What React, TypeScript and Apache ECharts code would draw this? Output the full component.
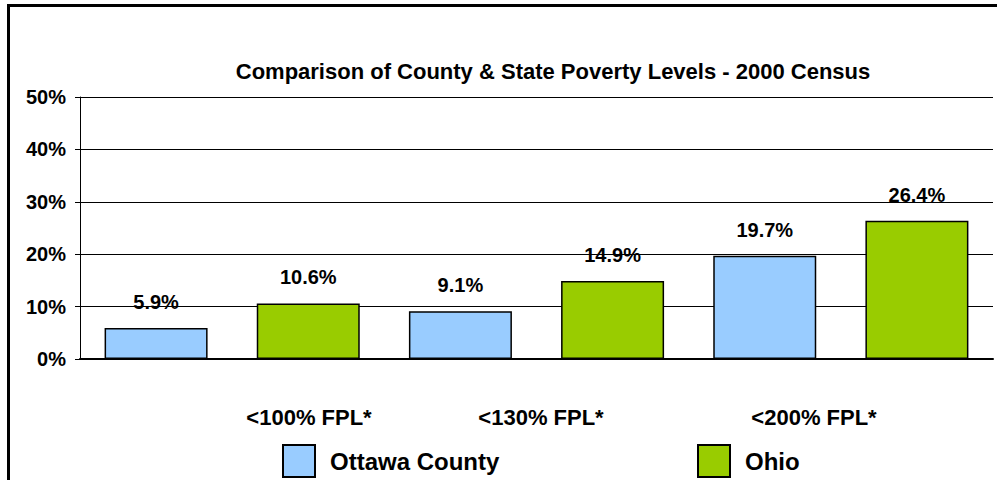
import React, { useEffect, useRef } from "react";
import * as echarts from "echarts";

const slots = ["a", "b", "c", "d", "e", "f"];
const groupLabels = ["<100% FPL*", "<130% FPL*", "<200% FPL*"];
const ottawa = [5.9, null, 9.1, null, 19.7, null];
const ohio = [null, 10.6, null, 14.9, null, 26.4];
const yTicks = [0, 10, 20, 30, 40, 50];

const FONT = "'Liberation Sans', Arial, sans-serif";

export default function App() {
  const ref = useRef<HTMLDivElement>(null);
  useEffect(() => {
    const chart = echarts.init(ref.current!, null, { renderer: "svg" });
    const labelStyle = {
      show: true,
      position: "top",
      distance: 16,
      formatter: "{c}%",
      fontFamily: FONT,
      fontWeight: "bold",
      fontSize: 20,
      color: "#000",
    };
    const legendText = {
      fontFamily: FONT,
      fontWeight: "bold",
      fontSize: 24,
      color: "#000",
      padding: [5, 0, 0, 10],
    };
    chart.setOption({
      animation: false,
      backgroundColor: "#fff",
      title: {
        text: "Comparison of County & State Poverty Levels - 2000 Census",
        left: 548,
        top: 55,
        textAlign: "center",
        textStyle: { fontFamily: FONT, fontWeight: "bold", fontSize: 22, color: "#000" },
      },
      grid: { left: 80, right: 4, top: 97, bottom: 121 },
      legend: [
        {
          data: ["Ottawa County"],
          left: 282,
          top: 444,
          padding: 0,
          icon: "rect",
          itemWidth: 32,
          itemHeight: 32,
          textStyle: legendText,
        },
        {
          data: ["Ohio"],
          left: 697,
          top: 444,
          padding: 0,
          icon: "rect",
          itemWidth: 32,
          itemHeight: 32,
          textStyle: legendText,
        },
      ],
      xAxis: {
        type: "category",
        data: slots,
        axisLine: { lineStyle: { color: "#000", width: 2 } },
        axisTick: { show: false },
        axisLabel: { show: false },
      },
      yAxis: {
        type: "value",
        min: yTicks[0],
        max: yTicks[yTicks.length - 1],
        interval: 10,
        axisLine: { show: true, lineStyle: { color: "#000", width: 1 } },
        axisTick: { show: true, length: 5, lineStyle: { color: "#000" } },
        splitLine: { lineStyle: { color: "#000", width: 1 } },
        axisLabel: {
          formatter: "{value}%",
          margin: 14,
          fontFamily: FONT,
          fontWeight: "bold",
          fontSize: 20,
          color: "#000",
        },
      },
      series: [
        {
          name: "Ottawa County",
          type: "bar",
          data: ottawa,
          barWidth: 103,
          barGap: "-100%",
          itemStyle: { color: "#99CCFF", borderColor: "#000", borderWidth: 1.5 },
          label: labelStyle,
        },
        {
          name: "Ohio",
          type: "bar",
          data: ohio,
          barWidth: 103,
          barGap: "-100%",
          itemStyle: { color: "#99CC00", borderColor: "#000", borderWidth: 1.5 },
          label: labelStyle,
        },
      ],
      graphic: [
        {
          type: "rect",
          shape: { x: 8.5, y: 5.5, width: 1100, height: 600 },
          style: { fill: "none", stroke: "#000", lineWidth: 3 },
          silent: true,
        },
        ...groupLabels.map((t, i) => ({
          type: "text",
          x: [309, 541, 814][i],
          y: 417,
          style: {
            text: t,
            align: "center",
            verticalAlign: "middle",
            fontFamily: FONT,
            fontWeight: "bold",
            fontSize: 22,
            fill: "#000",
          },
        })),
      ],
    });
    return () => chart.dispose();
  }, []);
  return (
    <div
      ref={ref}
      style={{ position: "absolute", left: 0, top: 0, width: 997, height: 480 }}
    />
  );
}
